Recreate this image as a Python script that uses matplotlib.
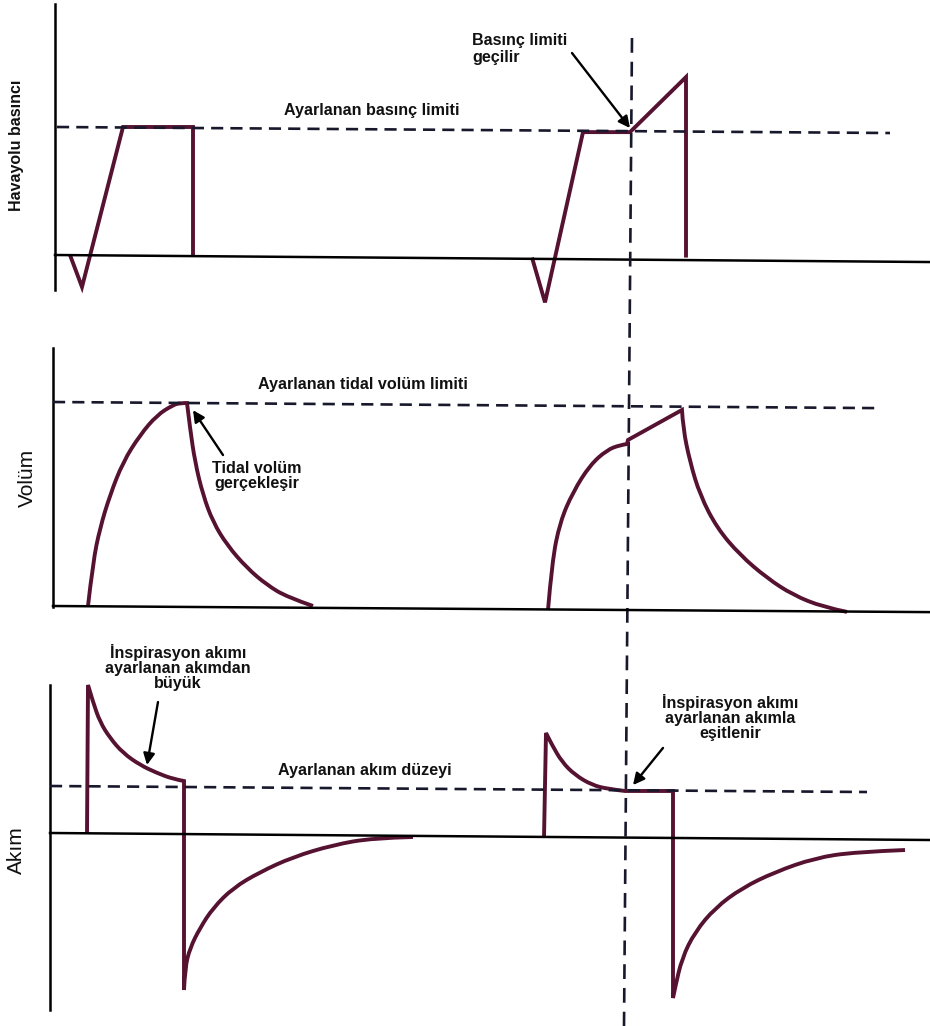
import matplotlib
matplotlib.use("Agg")
import matplotlib.pyplot as plt
from matplotlib.transforms import blended_transform_factory
from matplotlib.path import Path
from matplotlib.patches import PathPatch

plt.rcParams['font.family'] = ['Liberation Sans', 'DejaVu Sans']

# ---------------- data (time in arbitrary units, values normalised) ----------
# Pressure panel: 0 = baseline, 1 = set pressure limit
p1_t = [70, 82, 123, 193, 193]
p1_v = [0.0, -0.25, 1.0, 1.0, 0.0]
p2_t = [532, 545, 583, 630, 686, 686]
p2_v = [-0.02, -0.37, 0.96, 0.96, 1.39, -0.02]
p_limit_t = [57, 890]
p_limit_v = [1.0, 0.953]
p_base_t = [55, 930]
p_base_v = [0.0, -0.055]

# Volume panel: 0 = baseline, 1 = set tidal volume
v1_t = [88, 93, 100, 110, 123, 140, 157, 173, 180, 187,
        190, 195, 203, 213, 227, 247, 267, 287, 313]
v1_v = [0.0, 0.216, 0.382, 0.544, 0.706, 0.838, 0.936, 0.985, 0.995, 0.995,
        0.873, 0.706, 0.544, 0.412, 0.299, 0.186, 0.103, 0.044, 0.0]
v2_t = [548, 552, 560, 573, 590, 607, 620, 627, 628, 682,
        683, 690, 700, 717, 740, 767, 793, 823, 847]
v2_v = [-0.02, 0.216, 0.412, 0.559, 0.691, 0.765, 0.789, 0.794, 0.814, 0.961,
        0.873, 0.706, 0.544, 0.382, 0.25, 0.137, 0.054, -0.005, -0.029]
v_limit_t = [53, 878]
v_limit_v = [1.0, 0.97]
v_base_t = [53, 930]
v_base_v = [0.0, -0.03]

# Flow panel: 0 = baseline, 1 = set flow level
f1_t = [87, 88, 93, 100, 110, 123, 140, 157, 173, 184, 184,
        185, 190, 200, 213, 233, 260, 293, 333, 373, 413]
f1_v = [0.0, 3.149, 2.787, 2.362, 2.021, 1.702, 1.447, 1.277, 1.149, 1.106, -3.34,
        -2.872, -2.447, -2.021, -1.596, -1.17, -0.83, -0.511, -0.255, -0.106, -0.085]
f2_t = [544, 546, 552, 562, 575, 592, 608, 625, 673, 673,
        675, 682, 695, 715, 742, 775, 815, 855, 905]
f2_v = [-0.106, 2.128, 1.872, 1.511, 1.234, 1.021, 0.936, 0.894, 0.894, -3.511,
        -3.298, -2.66, -2.106, -1.596, -1.17, -0.83, -0.532, -0.404, -0.362]
f_level_t = [50, 867]
f_level_v = [1.0, 0.872]
f_base_t = [50, 930]
f_base_v = [0.0, -0.149]

# moment the pressure limit is crossed (vertical guide)
guide_t = [632, 624]

# ---------------- layout / style ----------------
W, H = 930, 1026
fig = plt.figure(figsize=(W / 100, H / 100), dpi=100)

WAVE = '#561231'
DASH = '#18182c'
TXT = '#111111'


def make_ax(top, bottom, base_px, scale_px):
    ax = fig.add_axes([0, 1 - bottom / H, 1, (bottom - top) / H])
    ax.set_xlim(0, W)
    ax.set_ylim((base_px - bottom) / scale_px, (base_px - top) / scale_px)
    ax.axis('off')
    ax.patch.set_alpha(0)
    return ax


def draw_wave(ax, t, v, corners=None):
    """Draw the trace; between corner indices runs are rendered as smooth
    quadratic-Bezier curves through the read points, otherwise straight."""
    pts = list(zip(t, v))
    if corners is None:
        corners = list(range(len(pts)))
    verts = [pts[0]]
    codes = [Path.MOVETO]
    for a, b in zip(corners[:-1], corners[1:]):
        seg = pts[a:b + 1]
        if len(seg) <= 2:
            verts.append(seg[-1])
            codes.append(Path.LINETO)
            continue
        for i in range(1, len(seg) - 1):
            ctrl = seg[i]
            if i == len(seg) - 2:
                end = seg[-1]
            else:
                end = ((seg[i][0] + seg[i + 1][0]) / 2, (seg[i][1] + seg[i + 1][1]) / 2)
            verts += [ctrl, end]
            codes += [Path.CURVE3, Path.CURVE3]
    patch = PathPatch(Path(verts, codes), fill=False, edgecolor=WAVE, lw=2.8,
                      joinstyle='miter', capstyle='butt')
    ax.add_patch(patch)


ax1 = make_ax(0, 320, 255, 128)
ax2 = make_ax(320, 650, 606, 204)
ax3 = make_ax(650, 1026, 833, 47)

dash_kw = dict(color=DASH, lw=1.9, dashes=(4.6, 2.7))
axis_kw = dict(color='black', lw=1.8)
arrow_kw = dict(arrowstyle='-|>', lw=1.7, color='black', mutation_scale=17,
                shrinkA=0, shrinkB=0)
bold_kw = dict(fontsize=11.6, fontweight='bold', color=TXT)

# --- pressure ---
ax1.plot([55, 55], [1.96, -0.27], **axis_kw)
ax1.plot(p_base_t, p_base_v, **axis_kw)
ax1.plot(p_limit_t, p_limit_v, **dash_kw)
draw_wave(ax1, p1_t, p1_v)
draw_wave(ax1, p2_t, p2_v)
ax1.text(16, 0.86, 'Havayolu basıncı', rotation=90, ha='center', va='center',
         fontsize=11.5, fontweight='bold', color=TXT)
ax1.text(372, 1.125, 'Ayarlanan basınç limiti', ha='center', va='center', **bold_kw)
ax1.text(472, 1.61, 'Basınç limiti\ngeçilir', ha='left', va='center',
         linespacing=1.12, **bold_kw)
ax1.annotate('', xy=(630, 0.992), xytext=(572, 1.578), arrowprops=arrow_kw)

# --- volume ---
ax2.plot([53, 53], [1.265, -0.005], **axis_kw)
ax2.plot(v_base_t, v_base_v, **axis_kw)
ax2.plot(v_limit_t, v_limit_v, **dash_kw)
draw_wave(ax2, v1_t, v1_v, [0, 9, 18])
draw_wave(ax2, v2_t, v2_v, [0, 7, 8, 9, 18])
ax2.text(27, 0.627, 'Volüm', rotation=90, ha='center', va='center',
         fontsize=15, color=TXT)
ax2.text(258, 1.088, 'Ayarlanan tidal volüm limiti', ha='left', va='center', **bold_kw)
ax2.text(257, 0.637, 'Tidal volüm\ngerçekleşir', ha='center', va='center',
         multialignment='center', linespacing=1.05, **bold_kw)
ax2.annotate('', xy=(193, 0.96), xytext=(223, 0.74), arrowprops=arrow_kw)

# --- flow ---
ax3.plot([50, 50], [3.149, -3.766], **axis_kw)
ax3.plot(f_base_t, f_base_v, **axis_kw)
ax3.plot(f_level_t, f_level_v, **dash_kw)
draw_wave(ax3, f1_t, f1_v, [0, 1, 9, 10, 20])
draw_wave(ax3, f2_t, f2_v, [0, 1, 7, 8, 9, 18])
ax3.text(16, -0.36, 'Akım', rotation=90, ha='center', va='center',
         fontsize=15, color=TXT)
ax3.text(178, 3.53, 'İnspirasyon akımı\nayarlanan akımdan\nbüyük', ha='center',
         va='center', multialignment='center', linespacing=1.0, **bold_kw)
ax3.annotate('', xy=(147, 1.447), xytext=(158, 2.787), arrowprops=arrow_kw)
ax3.text(278, 1.34, 'Ayarlanan akım düzeyi', ha='left', va='center', **bold_kw)
ax3.text(730, 2.447, 'İnspirasyon akımı\nayarlanan akımla\neşitlenir', ha='center',
         va='center', multialignment='center', linespacing=1.0, **bold_kw)
ax3.annotate('', xy=(633, 1.02), xytext=(663, 1.81), arrowprops=arrow_kw)

# --- vertical guide across all panels ---
tr = blended_transform_factory(ax1.transData, fig.transFigure)
ax1.plot(guide_t, [1 - 38 / H, 0], transform=tr, clip_on=False,
         color=DASH, lw=1.9, dashes=(5.6, 3.4))

fig.savefig('out.png', dpi=100, facecolor='white')
